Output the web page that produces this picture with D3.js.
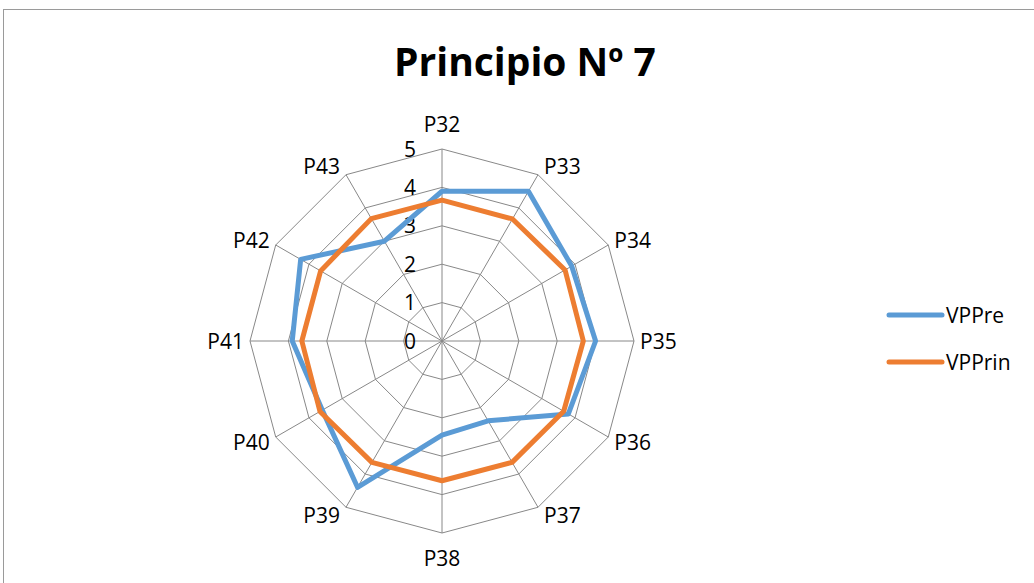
<!DOCTYPE html>
<html><head><meta charset="utf-8">
<script src="https://cdn.jsdelivr.net/npm/d3@7"></script>
<style>body{margin:0;background:#fff;}svg{display:block;font-family:"Open Sans","Noto Sans",sans-serif;}</style>
</head><body>
<svg id="chart" width="1034" height="583"></svg>
<script>
const categories = ["P32","P33","P34","P35","P36","P37","P38","P39","P40","P41","P42","P43"];
const seriesNames = ["VPPre","VPPrin"];
const vppre  = [3.9, 4.5, 3.9, 4.0, 3.8, 2.4, 2.45, 4.4, 3.6, 3.9, 4.25, 3.0];
const vpprin = [3.67, 3.67, 3.7, 3.68, 3.66, 3.65, 3.64, 3.65, 3.67, 3.65, 3.65, 3.68];
const tickValues = [0,1,2,3,4,5];
const colors = ["#5B9BD5","#ED7D31"];
const title = "Principio Nº 7";

const svg = d3.select("#chart");
svg.append("rect").attr("x",3.5).attr("y",9.5).attr("width",1200).attr("height",800)
  .attr("fill","#fff").attr("stroke","#9a9a9a").attr("stroke-width",1);

const cx = 442, cy = 341, R = 192;
const r = d3.scaleLinear().domain([0,5]).range([0,R]);
const ang = d3.scalePoint().domain(categories).range([0, 2*Math.PI*(categories.length-1)/categories.length]);
const pt = (c, v) => [cx + r(v)*Math.sin(ang(c)), cy - r(v)*Math.cos(ang(c))];

const g = svg.append("g");
tickValues.slice(1).forEach(t => {
  g.append("path")
    .attr("d", d3.line()(categories.map(c => pt(c,t))) + "Z")
    .attr("fill","none").attr("stroke","#888").attr("stroke-width",1);
});
categories.forEach(c => {
  const [x,y] = pt(c,5);
  g.append("line").attr("x1",cx).attr("y1",cy).attr("x2",x).attr("y2",y)
    .attr("stroke","#888").attr("stroke-width",1);
});
tickValues.forEach(t => {
  g.append("text").attr("x",416).attr("y",cy - r(t)).attr("dy","0.36em")
    .attr("text-anchor","end").attr("font-size",21).attr("fill","#000").text(t);
});
categories.forEach(c => {
  const a = ang(c);
  const s = Math.sin(a), co = Math.cos(a);
  const [ox, oy] = pt(c,5);
  let x, y, anchor;
  if (Math.abs(s) < 0.1) { anchor = "middle"; x = ox; y = oy - co*25; }
  else { anchor = s > 0 ? "start" : "end"; x = ox + (s>0?6:-6); y = oy - co*10; }
  g.append("text").attr("x",x).attr("y",y).attr("dy","0.36em")
    .attr("text-anchor",anchor).attr("font-size",21).attr("fill","#000").text(c);
});
[vppre, vpprin].forEach((vals,i) => {
  g.append("path")
    .attr("d", d3.line()(categories.map((c,j) => pt(c, vals[j]))) + "Z")
    .attr("fill","none").attr("stroke",colors[i]).attr("stroke-width",5)
    .attr("stroke-linejoin","round");
});
svg.append("text").attr("x",525).attr("y",76).attr("text-anchor","middle")
  .attr("font-size",39).attr("font-weight","bold").attr("fill","#000").text(title);
seriesNames.forEach((n,i) => {
  const y = 315 + i*47;
  svg.append("line").attr("x1",889).attr("x2",942).attr("y1",y).attr("y2",y)
    .attr("stroke",colors[i]).attr("stroke-width",5).attr("stroke-linecap","round");
  svg.append("text").attr("x",946).attr("y",y).attr("dy","0.36em")
    .attr("font-size",21).attr("fill","#000").text(n);
});
</script>
</body></html>
